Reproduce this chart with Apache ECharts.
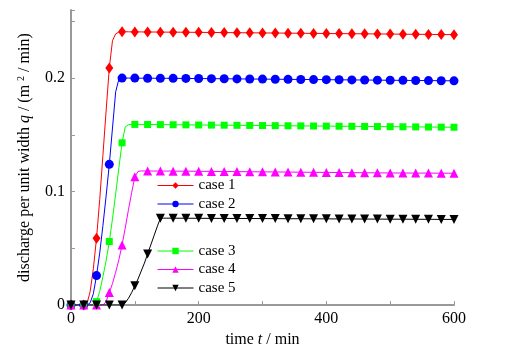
<!DOCTYPE html>
<html>
<head>
<meta charset="utf-8">
<script src="https://cdn.jsdelivr.net/npm/echarts@6/dist/echarts.min.js"></script>
<style>
  html, body { margin: 0; padding: 0; background: #fff; }
  #main { width: 507px; height: 353px; }
</style>
</head>
<body>
<div id="main"></div>
<script>
// time axis (min): 5-min steps through the rising part, then every 20 min
var times = [0, 5, 10, 15, 20, 25, 30, 35, 40, 45, 50, 55, 60, 65, 70, 75, 80, 85, 90, 95,
    100, 105, 110, 115, 120, 125, 130, 135, 140, 145, 150, 155, 160,
    180, 200, 220, 240, 260, 280, 300, 320, 340, 360, 380, 400, 420, 440, 460, 480, 500,
    520, 540, 560, 580, 600];

// discharge per unit width q (m2/min) for each case, one value per time
var case1 = [0, 0, 0, 0, 0, 0.001, 0.012, 0.032, 0.059, 0.093, 0.132, 0.171, 0.209, 0.233, 0.239, 0.2405, 0.2408, 0.2408, 0.2408, 0.2407,
    0.2407, 0.2407, 0.2407, 0.2406, 0.2406, 0.2406, 0.2406, 0.2406, 0.2405, 0.2405, 0.2405, 0.2405, 0.2405,
    0.2404, 0.2403, 0.2402, 0.2401, 0.2400, 0.2399, 0.2398, 0.2397, 0.2396, 0.2395, 0.2394, 0.2393, 0.2392, 0.2391, 0.2390, 0.2389, 0.2388,
    0.2387, 0.2386, 0.2385, 0.2384, 0.2383];
var case2 = [0, 0, 0, 0, 0, 0, 0.002, 0.010, 0.026, 0.046, 0.070, 0.096, 0.124, 0.156, 0.188, 0.199, 0.2000, 0.2000, 0.2000, 0.2000,
    0.2000, 0.1999, 0.1999, 0.1999, 0.1999, 0.1999, 0.1999, 0.1998, 0.1998, 0.1998, 0.1998, 0.1998, 0.1998,
    0.1997, 0.1996, 0.1995, 0.1994, 0.1993, 0.1992, 0.1991, 0.1990, 0.1989, 0.1988, 0.1987, 0.1986, 0.1985, 0.1984, 0.1983, 0.1982, 0.1981,
    0.1980, 0.1979, 0.1978, 0.1977, 0.1976];
var case3 = [0, 0, 0, 0, 0, 0, 0, 0, 0.003, 0.012, 0.025, 0.039, 0.056, 0.076, 0.098, 0.121, 0.143, 0.157, 0.1590, 0.1592,
    0.1592, 0.1592, 0.1592, 0.1591, 0.1591, 0.1591, 0.1591, 0.1590, 0.1590, 0.1590, 0.1590, 0.1590, 0.1589,
    0.1588, 0.1587, 0.1586, 0.1585, 0.1584, 0.1583, 0.1582, 0.1581, 0.1580, 0.1579, 0.1578, 0.1577, 0.1576, 0.1575, 0.1574, 0.1573, 0.1572,
    0.1571, 0.1570, 0.1569, 0.1568, 0.1567];
var case4 = [0, 0, 0, 0, 0, 0, 0, 0, 0, 0, 0, 0.003, 0.011, 0.019, 0.029, 0.040, 0.053, 0.068, 0.084, 0.099,
    0.113, 0.1178, 0.1182, 0.1182, 0.1182, 0.1182, 0.1181, 0.1181, 0.1181, 0.1181, 0.1181, 0.1181, 0.1180,
    0.1180, 0.1179, 0.1178, 0.1177, 0.1176, 0.1175, 0.1174, 0.1173, 0.1172, 0.1171, 0.1170, 0.1169, 0.1168, 0.1167, 0.1166, 0.1165, 0.1164,
    0.1164, 0.1163, 0.1163, 0.1162, 0.1162];
var case5 = [0, 0, 0, 0, 0, 0, 0, 0, 0, 0, 0, 0, 0, 0, 0, 0, 0, 0.002, 0.006, 0.011,
    0.017, 0.023, 0.030, 0.037, 0.045, 0.053, 0.061, 0.069, 0.0765, 0.0766, 0.0766, 0.0766, 0.0766,
    0.0765, 0.0765, 0.0764, 0.0764, 0.0763, 0.0763, 0.0762, 0.0762, 0.0761, 0.0761, 0.0760, 0.0760, 0.0759, 0.0759, 0.0758, 0.0758, 0.0757,
    0.0757, 0.0756, 0.0756, 0.0755, 0.0755];

var caseNames = ['case 1', 'case 2', 'case 3', 'case 4', 'case 5'];
var caseData = [case1, case2, case3, case4, case5];
var caseColors = ['#ff0000', '#0000ff', '#00ff00', '#ff00ff', '#000000'];
var caseSymbols = ['diamond', 'circle', 'rect', 'triangle', 'path://M0,0 L10,0 L5,9 Z'];
var caseSizes = [[8, 11], 9, 7, 9, 9];

// markers only every 20 min
var markerStep = 20;

var FONT = 'Liberation Serif';

function makeSeries(i) {
    var pts = [];
    for (var k = 0; k < times.length; k++) {
        pts.push([times[k], caseData[i][k]]);
    }
    var size = caseSizes[i];
    return {
        name: caseNames[i],
        type: 'line',
        data: pts,
        symbol: caseSymbols[i],
        symbolSize: function (val) {
            return val[0] % markerStep === 0 ? size : 0;
        },
        showAllSymbol: true,
        animation: false,
        lineStyle: { color: caseColors[i], width: 1 },
        itemStyle: { color: caseColors[i] },
        emphasis: { disabled: true }
    };
}

var series = [];
for (var i = 0; i < caseNames.length; i++) {
    series.push(makeSeries(i));
}

var myChart = echarts.init(document.getElementById('main'), null, { renderer: 'canvas' });

var legendBase = {
    orient: 'vertical',
    left: 157,
    padding: 0,
    itemWidth: 36,
    itemHeight: 8,
    itemGap: 3.5,
    lineStyle: { width: 1 },
    textStyle: { fontFamily: FONT, fontSize: 15, color: '#000' },
    selectedMode: false
};

var option = {
    backgroundColor: '#fff',
    animation: false,
    grid: { left: 71, right: 53, top: 10, bottom: 46 },
    legend: [
        Object.assign({}, legendBase, { top: 178, data: ['case 1', 'case 2'] }),
        Object.assign({}, legendBase, { top: 243.5, data: ['case 3', 'case 4', 'case 5'] })
    ],
    xAxis: {
        type: 'value',
        min: 0,
        max: 600,
        interval: 100,
        name: 'time {i|t} / min',
        nameLocation: 'middle',
        nameGap: 22,
        nameTextStyle: {
            fontFamily: FONT, fontSize: 16, color: '#000',
            rich: { i: { fontFamily: FONT, fontSize: 16, fontStyle: 'italic', color: '#000' } }
        },
        axisLine: { show: true, onZero: false, lineStyle: { color: '#999', width: 2 } },
        axisTick: { show: true, inside: true, length: 4, lineStyle: { color: '#999' } },
        axisLabel: {
            margin: 6,
            fontFamily: FONT, fontSize: 16, color: '#000',
            formatter: function (v) { return v % 200 === 0 ? String(v) : ''; }
        },
        splitLine: { show: false }
    },
    yAxis: {
        type: 'value',
        min: 0,
        max: 0.26,
        interval: 0.05,
        name: 'discharge per unit width {i|q} / (m {s|2} / min)',
        nameLocation: 'middle',
        nameRotate: 90,
        nameGap: 35,
        nameTextStyle: {
            fontFamily: FONT, fontSize: 16, color: '#000', lineHeight: 18,
            rich: {
                i: { fontFamily: FONT, fontSize: 16, fontStyle: 'italic', color: '#000', lineHeight: 18 },
                s: { fontFamily: FONT, fontSize: 10, color: '#000', verticalAlign: 'top', lineHeight: 12 }
            }
        },
        axisLine: { show: true, onZero: false, lineStyle: { color: '#999', width: 2 } },
        axisTick: { show: true, inside: true, length: 4, lineStyle: { color: '#999' } },
        axisLabel: {
            margin: 6,
            fontFamily: FONT, fontSize: 16, color: '#000',
            formatter: function (v) {
                var t = Math.round(v * 100);
                return (t % 10 === 0 && t <= 20) ? String(t / 100) : '';
            }
        },
        splitLine: { show: false }
    },
    series: series
};

myChart.setOption(option);
</script>
</body>
</html>
